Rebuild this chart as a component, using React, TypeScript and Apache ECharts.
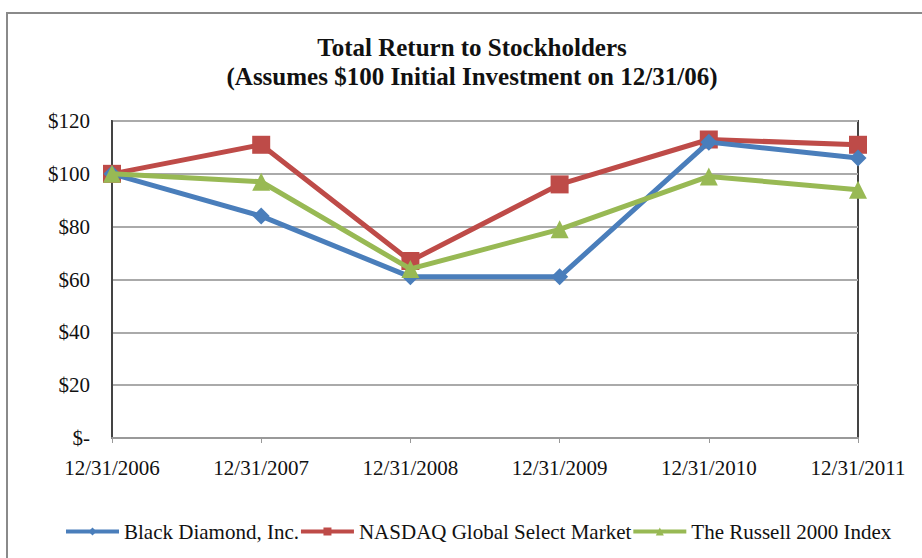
import React, { useEffect, useRef } from "react";
import * as echarts from "echarts";

const categories = ["12/31/2006", "12/31/2007", "12/31/2008", "12/31/2009", "12/31/2010", "12/31/2011"];
const blackDiamond = [100, 84, 61, 61, 112, 106];
const nasdaq = [100, 111, 67, 96, 113, 111];
const russell = [100, 97, 64, 79, 99, 94];
const yTicks = [0, 20, 40, 60, 80, 100, 120];

const FONT = "Liberation Serif";

export default function App() {
  const ref = useRef<HTMLDivElement>(null);
  useEffect(() => {
    document.body.style.margin = "0";
    const chart = echarts.init(ref.current!, undefined, { renderer: "svg" });
    chart.setOption({
      animation: false,
      backgroundColor: "#ffffff",
      textStyle: { fontFamily: FONT },
      graphic: [
        {
          type: "rect",
          shape: { x: 7, y: 13, width: 1000, height: 700 },
          style: { fill: "none", stroke: "#8a8a8a", lineWidth: 2 },
          silent: true,
        },
      ],
      title: {
        text: "Total Return to Stockholders\n(Assumes $100 Initial Investment on 12/31/06)",
        left: 467,
        top: 28,
        textAlign: "center",
        textStyle: {
          fontFamily: FONT,
          fontWeight: "bold",
          fontSize: 25,
          lineHeight: 29,
          color: "#111",
        },
      },
      legend: {
        left: 59,
        top: 516,
        itemGap: 0,
        itemWidth: 53,
        itemHeight: 10,
        lineStyle: { width: 4 },
        textStyle: { fontFamily: FONT, fontSize: 21, color: "#111" },
        data: ["Black Diamond, Inc.", "NASDAQ Global Select Market", "The Russell 2000 Index"],
      },
      grid: {
        left: 112,
        right: 64,
        top: 121,
        bottom: 120,
        show: true,
        borderColor: "#444",
        borderWidth: 2,
      },
      xAxis: {
        type: "category",
        boundaryGap: false,
        data: categories,
        axisLine: { lineStyle: { color: "#999", width: 2 } },
        axisTick: { show: true, length: 5, lineStyle: { color: "#999", width: 1 } },
        axisLabel: { fontFamily: FONT, fontSize: 21, color: "#111", margin: 19 },
        splitLine: { show: false },
      },
      yAxis: {
        type: "value",
        min: 0,
        max: 120,
        interval: 20,
        axisLine: { show: true, lineStyle: { color: "#444", width: 2 } },
        axisTick: { show: false },
        axisLabel: {
          fontFamily: FONT,
          fontSize: 21,
          color: "#111",
          margin: 22,
          formatter: (v: number) => (yTicks.includes(v) ? (v === 0 ? "$-" : "$" + v) : ""),
        },
        splitLine: { show: true, lineStyle: { color: "#aaaaaa", width: 2 } },
      },
      series: [
        {
          name: "Black Diamond, Inc.",
          type: "line",
          data: blackDiamond,
          symbol: "diamond",
          symbolSize: 17,
          itemStyle: { color: "#4a7ebb" },
          lineStyle: { color: "#4a7ebb", width: 5 },
          z: 3,
        },
        {
          name: "NASDAQ Global Select Market",
          type: "line",
          data: nasdaq,
          symbol: "rect",
          symbolSize: 18,
          itemStyle: { color: "#be4b48" },
          lineStyle: { color: "#be4b48", width: 5 },
          z: 2,
        },
        {
          name: "The Russell 2000 Index",
          type: "line",
          data: russell,
          symbol: "triangle",
          symbolSize: 18,
          itemStyle: { color: "#98b954" },
          lineStyle: { color: "#98b954", width: 5 },
          z: 4,
        },
      ],
    });
    return () => chart.dispose();
  }, []);
  return <div ref={ref} style={{ width: 922, height: 558 }} />;
}
